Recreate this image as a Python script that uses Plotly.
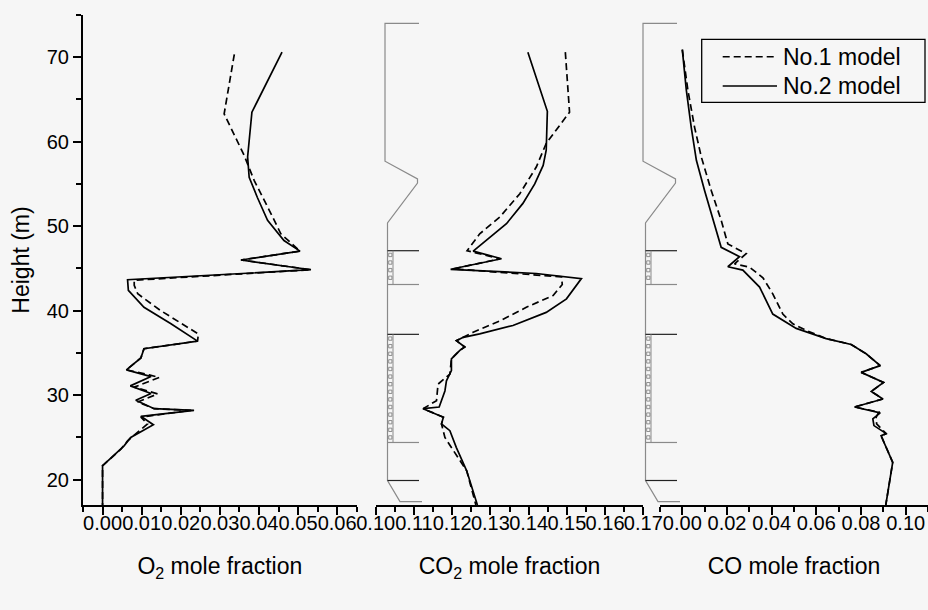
import plotly.graph_objects as go

# ---------------------------------------------------------------------------
# Vertical profiles: height (m) and mole fraction for the two models
# ---------------------------------------------------------------------------
o2_m1_h = [70.35, 63.3, 58.4, 55.4, 51.1, 49.1, 47.05, 46.0, 44.85, 43.6, 43.0, 42.0,
           40.0, 38.05, 37.25, 36.4, 35.5, 34.4, 33.0, 32.4, 32.1, 30.95, 30.15, 29.2,
           28.4, 28.2, 27.4, 26.6, 24.6, 23.6, 21.9, 21.65, 17.0]
o2_m1 = [0.0337, 0.0311, 0.0362, 0.0388, 0.0435, 0.0456, 0.0505, 0.0354, 0.0533, 0.0081,
         0.0081, 0.0090, 0.0149, 0.0217, 0.0245, 0.0243, 0.0106, 0.0098, 0.0061, 0.0119,
         0.0145, 0.0081, 0.0141, 0.0090, 0.0132, 0.0226, 0.0098, 0.0115, 0.0064, 0.0047,
         0.0008, 0.0, 0.0]

o2_m2_h = [70.6, 63.5, 58.2, 55.8, 53.4, 50.7, 48.3, 47.05, 46.0, 44.85, 43.66, 42.4,
           40.4, 38.45, 36.4, 35.5, 34.4, 33.0, 32.2, 31.1, 30.2, 29.4, 28.4, 28.2, 27.5,
           26.5, 25.0, 24.0, 21.8, 21.65, 17.0]
o2_m2 = [0.0459, 0.0382, 0.0371, 0.0375, 0.0396, 0.0422, 0.0464, 0.0505, 0.0354, 0.0533,
         0.0064, 0.0066, 0.0106, 0.0175, 0.0243, 0.0106, 0.0098, 0.0061, 0.0124, 0.0071,
         0.0124, 0.0085, 0.0132, 0.0234, 0.0098, 0.0130, 0.0072, 0.0055, 0.0004, 0.0, 0.0]

co2_m1_h = [70.6, 63.5, 59.8, 57.0, 53.85, 51.1, 49.1, 47.1, 46.15, 44.95, 44.0, 43.1,
            41.8, 40.4, 38.8, 37.45, 36.85, 36.45, 35.7, 35.3, 34.3, 32.5, 31.3, 29.35,
            28.4, 27.4, 26.6, 25.0, 23.8, 21.05, 17.0]
co2_m1 = [0.1496, 0.1507, 0.1446, 0.1420, 0.1377, 0.1325, 0.1272, 0.1239, 0.1325, 0.1203,
          0.1486, 0.1488, 0.1464, 0.1394, 0.1325, 0.1255, 0.1229, 0.1211, 0.1233, 0.1220,
          0.1198, 0.1194, 0.1163, 0.1159, 0.1124, 0.1177, 0.1172, 0.1181, 0.1198, 0.1238,
          0.1262]

co2_m2_h = [70.6, 63.6, 59.0, 57.2, 55.0, 52.7, 50.3, 48.7, 47.05, 46.15, 44.9, 44.4,
            43.8, 41.4, 39.8, 38.25, 37.25, 36.85, 36.45, 35.7, 35.3, 34.3, 32.9, 31.7,
            30.5, 28.6, 28.4, 27.4, 26.6, 25.8, 23.8, 21.05, 17.0]
co2_m2 = [0.1398, 0.1449, 0.1446, 0.1438, 0.1416, 0.1385, 0.1342, 0.1298, 0.1255, 0.1329,
          0.1196, 0.1420, 0.1538, 0.1499, 0.1446, 0.1359, 0.1272, 0.1229, 0.1211, 0.1233,
          0.1220, 0.1198, 0.1198, 0.1185, 0.1181, 0.1166, 0.1124, 0.1177, 0.1172, 0.1194,
          0.1211, 0.1238, 0.1266]

co_m1_h = [70.9, 66.1, 61.7, 58.2, 54.2, 50.7, 47.9, 46.75, 45.55, 45.15, 43.9, 42.0,
           39.6, 38.45, 37.6, 36.7, 36.0, 34.9, 33.5, 32.7, 31.5, 30.45, 29.55, 28.6,
           28.0, 27.4, 26.6, 25.45, 25.2, 22.05, 17.0]
co_m1 = [0.0, 0.0025, 0.0055, 0.0085, 0.0130, 0.0174, 0.0204, 0.0286, 0.0234, 0.0301,
         0.0361, 0.0405, 0.0450, 0.0495, 0.0560, 0.0644, 0.0756, 0.0823, 0.0886, 0.0801,
         0.0901, 0.0846, 0.0898, 0.0771, 0.0880, 0.0868, 0.0870, 0.0913, 0.0890, 0.0942,
         0.0911]

co_m2_h = [70.9, 66.1, 61.7, 57.8, 54.2, 50.7, 47.5, 46.4, 45.2, 44.8, 42.8, 39.6, 37.9,
           36.7, 36.0, 34.9, 33.5, 32.7, 31.5, 30.45, 29.55, 28.6, 27.9, 27.2, 26.4, 25.45,
           25.2, 22.05, 17.0]
co_m2 = [0.0, 0.0018, 0.0040, 0.0063, 0.0100, 0.0137, 0.0174, 0.0256, 0.0204, 0.0271,
         0.0346, 0.0405, 0.0510, 0.0644, 0.0756, 0.0823, 0.0886, 0.0801, 0.0901, 0.0846,
         0.0898, 0.0771, 0.0886, 0.0853, 0.0858, 0.0913, 0.0890, 0.0942, 0.0911]

series_names = ["No.1 model", "No.2 model"]
axis_titles = ["O<sub>2</sub> mole fraction", "CO<sub>2</sub> mole fraction", "CO mole fraction"]
y_title = "Height (m)"

# ---------------------------------------------------------------------------
# Building section sketch (heights in m, horizontal offsets in px from its left wall)
# ---------------------------------------------------------------------------
outline_off = [34, 0, 0, 32.5, 32.5, 2.5, 2.5, 15, 37]
outline_h = [74.0, 74.0, 57.7, 55.6, 55.1, 50.4, 19.9, 17.4, 17.4]
floor_h = [47.1, 43.1, 37.2, 24.4, 19.9]
floor_col = ["#222222", "#8a8a8a", "#222222", "#8a8a8a", "#222222"]
window_bands = [(43.1, 47.1), (24.4, 37.2)]
window_rows = [[46.6, 45.7, 44.8, 43.9],
               [36.7, 35.8, 34.9, 34.0, 33.1, 32.2, 31.3, 30.4, 29.5, 28.6, 27.7, 26.8,
                25.9, 25.0]]
building_left_px = [302, 560]   # left wall of each sketch, px from plot-area left

FONT = "Liberation Sans, Arial, sans-serif"
BG = "#f6f6f6"
W, H = 928, 610
ML, MR, MT, MB = 83, 0, 15, 105
PW = W - ML - MR
PH = H - MT - MB

fig = go.Figure()

profiles = [
    ("x", o2_m1, o2_m1_h, o2_m2, o2_m2_h),
    ("x2", co2_m1, co2_m1_h, co2_m2, co2_m2_h),
    ("x3", co_m1, co_m1_h, co_m2, co_m2_h),
]
for xa, v1, h1, v2, h2 in profiles:
    fig.add_trace(go.Scatter(x=v1, y=h1, xaxis=xa, yaxis="y", mode="lines",
                             name=series_names[0], showlegend=False,
                             line=dict(color="black", width=1.7, dash="7px,4px")))
    fig.add_trace(go.Scatter(x=v2, y=h2, xaxis=xa, yaxis="y", mode="lines",
                             name=series_names[1], showlegend=False,
                             line=dict(color="black", width=1.7)))

shapes = []


def px(offset):
    return offset / PW


for left in building_left_px:
    path = "M " + " L ".join(f"{px(left + o):.5f},{h}" for o, h in zip(outline_off, outline_h))
    shapes.append(dict(type="path", path=path, xref="paper", yref="y",
                       line=dict(color="#8a8a8a", width=1.2)))
    for fh, fc in zip(floor_h, floor_col):
        shapes.append(dict(type="line", xref="paper", yref="y",
                           x0=px(left + 2.5), x1=px(left + 34), y0=fh, y1=fh,
                           line=dict(color=fc, width=1.2)))
    for (b0, b1), rows in zip(window_bands, window_rows):
        shapes.append(dict(type="line", xref="paper", yref="y",
                           x0=px(left + 8), x1=px(left + 8), y0=b0, y1=b1,
                           line=dict(color="#8a8a8a", width=1)))
        for r in rows:
            shapes.append(dict(type="rect", xref="paper", yref="y",
                               x0=px(left + 3.7), x1=px(left + 6.9),
                               y0=r - 0.2, y1=r + 0.2,
                               line=dict(color="#777777", width=0.8)))

# Legend box drawn in paper space
def py(pix):
    return (MT + PH - pix) / PH

lx0, lx1 = px(701.7 - ML), px(925 - ML)
shapes.append(dict(type="rect", xref="paper", yref="paper",
                   x0=lx0, x1=lx1, y0=py(102.3), y1=py(39.3),
                   line=dict(color="black", width=1.3)))
legend_rows = [(56.7, "7px,4px"), (86.0, "solid")]
annotations = []
for (ypix, dash), name in zip(legend_rows, series_names):
    shapes.append(dict(type="line", xref="paper", yref="paper",
                       x0=px(722.7 - ML), x1=px(777 - ML), y0=py(ypix), y1=py(ypix),
                       line=dict(color="black", width=1.6, dash=dash)))
    annotations.append(dict(xref="paper", yref="paper", x=px(781 - ML), y=py(ypix),
                            xanchor="left", yanchor="middle", text=name, showarrow=False,
                            font=dict(size=23, color="black", family=FONT)))

axis_common = dict(
    showline=True, linecolor="black", linewidth=2, mirror=False,
    ticks="outside", ticklen=8, tickwidth=1.5, tickcolor="black",
    showgrid=False, zeroline=False, tickangle=0, automargin=False,
    tickfont=dict(size=20, color="black", family=FONT),
    title_font=dict(size=23, color="black", family=FONT),
)
minor_common = dict(ticks="outside", ticklen=5, tickwidth=1.5, tickcolor="black", showgrid=False)

fig.update_layout(
    width=W, height=H,
    margin=dict(l=ML, r=MR, t=MT, b=MB, pad=0),
    paper_bgcolor=BG, plot_bgcolor=BG,
    font=dict(family=FONT, color="black"),
    showlegend=False,
    shapes=shapes, annotations=annotations,
    xaxis=dict(domain=[0, 0.3239], range=[-0.005, 0.065], tick0=0, dtick=0.01,
               tickformat=".2f", anchor="y", ticklabelstandoff=-9,
               minor=dict(dtick=0.005, tick0=0, **minor_common),
               title=dict(text=axis_titles[0], standoff=25), **axis_common),
    xaxis2=dict(domain=[0.3464, 0.6631], range=[0.10, 0.17], tick0=0.10, dtick=0.01,
                tickformat=".2f", anchor="y", ticklabelstandoff=-9,
                minor=dict(dtick=0.005, tick0=0.10, **minor_common),
                title=dict(text=axis_titles[1], standoff=25), **axis_common),
    xaxis3=dict(domain=[0.6828, 1.0], range=[-0.01, 0.11], tick0=0, dtick=0.02,
                tickformat=".2f", anchor="y", ticklabelstandoff=-9,
                minor=dict(dtick=0.01, tick0=0, **minor_common),
                title=dict(text=axis_titles[2], standoff=25), **axis_common),
    yaxis=dict(domain=[0, 1], range=[17, 75], tick0=0, dtick=10, anchor="x",
               minor=dict(dtick=5, tick0=0, **minor_common),
               title=dict(text=y_title, standoff=11), **axis_common),
)

fig.write_html("out.html")
